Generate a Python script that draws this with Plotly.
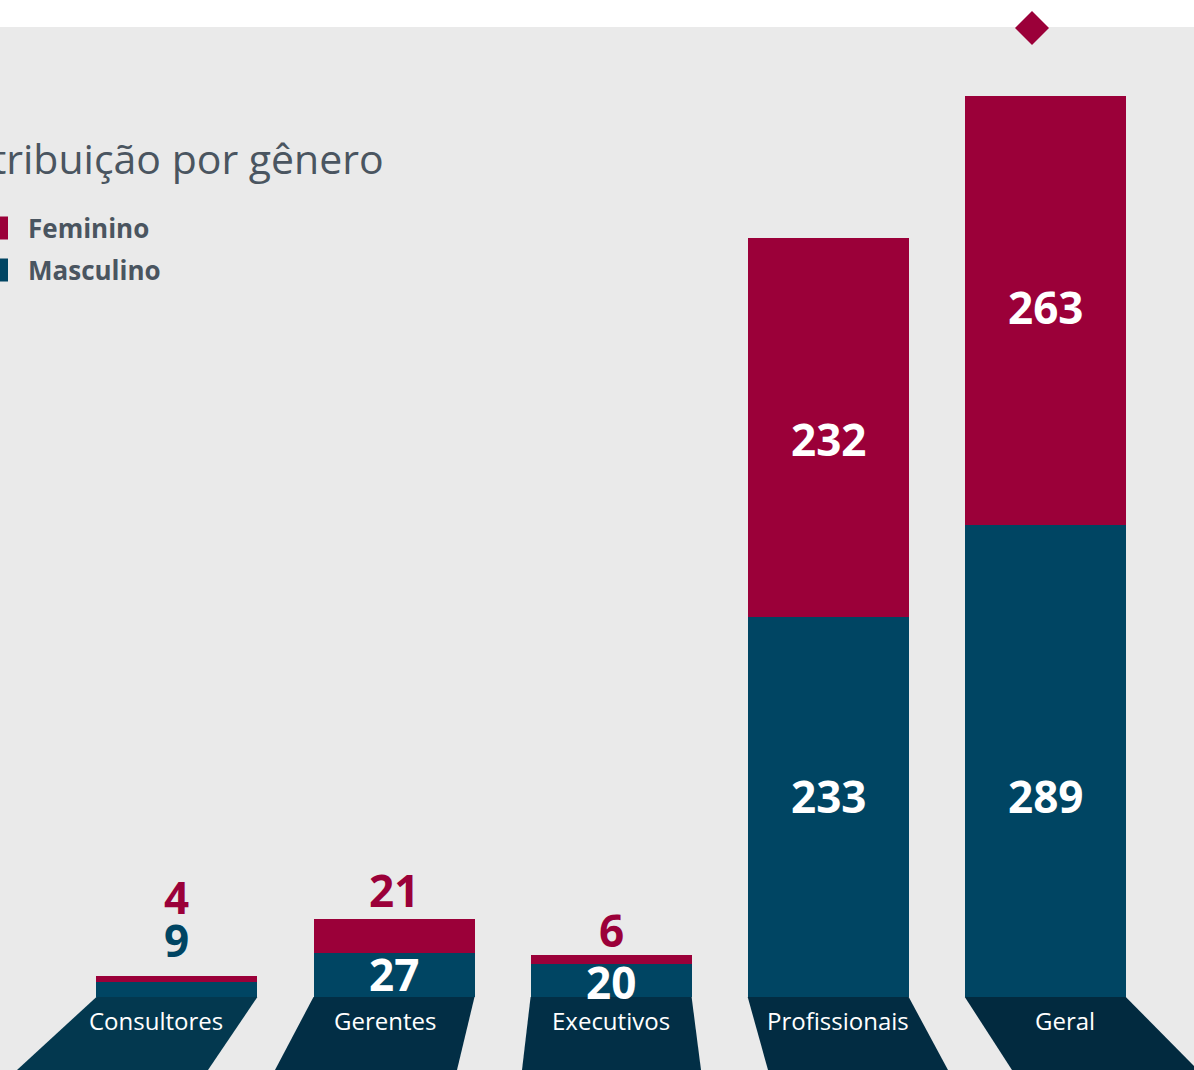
import plotly.graph_objects as go

# Headcount by job level, split by gender
categorias = ["Consultores", "Gerentes", "Executivos", "Profissionais", "Geral"]
masculino = [9, 27, 20, 233, 289]
feminino = [4, 21, 6, 232, 263]

titulo = "Distribuição por gênero"
legenda = ["Feminino", "Masculino"]

COR_FEM = "#9b0039"
COR_MASC = "#004563"
COR_FUNDO = "#eaeaea"
COR_TEXTO = "#4a5560"
FONTE = "Open Sans"

W, H = 1194, 1070
BASE_PX = 997          # pixel row of the bars' baseline
TOPO_PX = 96           # pixel row reached by the tallest stack
PRIMEIRO_CX = 176.9    # pixel centre of the first bar
PASSO = 217.1          # pixel distance between bar centres
LARGURA_PX = 161       # bar width in pixels

totais = [m + f for m, f in zip(masculino, feminino)]
k = (BASE_PX - TOPO_PX) / max(totais)          # pixels per person
y_max = BASE_PX / k
y_min = -(H - BASE_PX) / k


def px_x(px):
    return (px - PRIMEIRO_CX) / PASSO


def px_y(py):
    return (BASE_PX - py) / k


fig = go.Figure()
fig.add_trace(go.Bar(x=categorias, y=masculino, name=legenda[1],
                     marker=dict(color=COR_MASC, line=dict(width=0)),
                     width=LARGURA_PX / PASSO, hoverinfo="skip"))
fig.add_trace(go.Bar(x=categorias, y=feminino, name=legenda[0],
                     marker=dict(color=COR_FEM, line=dict(width=0)),
                     width=LARGURA_PX / PASSO, hoverinfo="skip"))

shapes = []
# grey panel below the white strip at the top
shapes.append(dict(type="rect", xref="paper", yref="paper", x0=0, x1=1,
                   y0=0, y1=1 - 27 / H, fillcolor=COR_FUNDO, line_width=0,
                   layer="below"))

# perspective floor under each bar
base_esq_px = [17, 275, 522, 768, 1012]
base_dir_px = [208, 457, 701, 948, 1198]
cores_base = ["#03384f", "#022e45", "#022f46", "#022c42", "#022a3f"]
annotations = []
for i, cat in enumerate(categorias):
    cx = PRIMEIRO_CX + PASSO * i
    tl, tr = cx - LARGURA_PX / 2, cx + LARGURA_PX / 2
    bl, br = base_esq_px[i], base_dir_px[i]
    path = (f"M {px_x(tl)} {px_y(BASE_PX)} L {px_x(tr)} {px_y(BASE_PX)} "
            f"L {px_x(br)} {y_min} L {px_x(bl)} {y_min} Z")
    shapes.append(dict(type="path", xref="x", yref="y", path=path,
                       fillcolor=cores_base[i], line_width=0, layer="above"))
    t = (1021 - BASE_PX) / (H - BASE_PX)
    lx = cx + t * ((bl + br) / 2 - cx)
    annotations.append(dict(x=px_x(lx), y=px_y(1020), xref="x", yref="y",
                            text=cat, showarrow=False,
                            font=dict(family=FONTE, size=24, color="white")))

# value labels
masc_py = [941, 975, 983, 797, 797]
fem_py = [898, 891, 931, 440, 308]
masc_cor = [COR_MASC, "white", "white", "white", "white"]
fem_cor = [COR_FEM, COR_FEM, COR_FEM, "white", "white"]
for i, cat in enumerate(categorias):
    cx = PRIMEIRO_CX + PASSO * i
    for val, py, cor in ((masculino[i], masc_py[i], masc_cor[i]),
                         (feminino[i], fem_py[i], fem_cor[i])):
        annotations.append(dict(x=px_x(cx), y=px_y(py - 1), xref="x", yref="y",
                                text=f"<b>{val}</b>", showarrow=False,
                                yanchor="middle",
                                font=dict(family=FONTE, size=44, color=cor)))

# title, partly running off the left edge
annotations.append(dict(x=386 / W, y=1 - 158 / H, xref="paper", yref="paper",
                        xanchor="right", yanchor="middle", text=titulo,
                        showarrow=False,
                        font=dict(family=FONTE, size=41, color=COR_TEXTO)))

# legend
for j, (nome, cor, py) in enumerate(((legenda[0], COR_FEM, 228),
                                     (legenda[1], COR_MASC, 270))):
    shapes.append(dict(type="rect", xref="paper", yref="paper",
                       x0=-15 / W, x1=8 / W, y0=1 - (py + 11.5) / H,
                       y1=1 - (py - 11.5) / H, fillcolor=cor, line_width=0))
    annotations.append(dict(x=26 / W, y=1 - py / H, xref="paper", yref="paper",
                            xanchor="left", yanchor="middle",
                            text=f"<b>{nome}</b>", showarrow=False,
                            font=dict(family=FONTE, size=26, color=COR_TEXTO)))

# diamond marker above the overall bar
dcx, dcy, r = 1032, 28, 17
shapes.append(dict(type="path", xref="paper", yref="paper",
                   path=(f"M {dcx / W} {1 - (dcy - r) / H} L {(dcx + r) / W} {1 - dcy / H} "
                         f"L {dcx / W} {1 - (dcy + r) / H} L {(dcx - r) / W} {1 - dcy / H} Z"),
                   fillcolor=COR_FEM, line_width=0))

fig.update_layout(
    width=W, height=H, autosize=False,
    margin=dict(l=0, r=0, t=0, b=0, pad=0),
    paper_bgcolor="white", plot_bgcolor="rgba(0,0,0,0)",
    barmode="stack", bargap=0, showlegend=False,
    xaxis=dict(visible=False, range=[px_x(0), px_x(W)], fixedrange=True),
    yaxis=dict(visible=False, range=[y_min, y_max], fixedrange=True),
    shapes=shapes, annotations=annotations,
)

fig.write_html("out.html", config={"displayModeBar": False})
